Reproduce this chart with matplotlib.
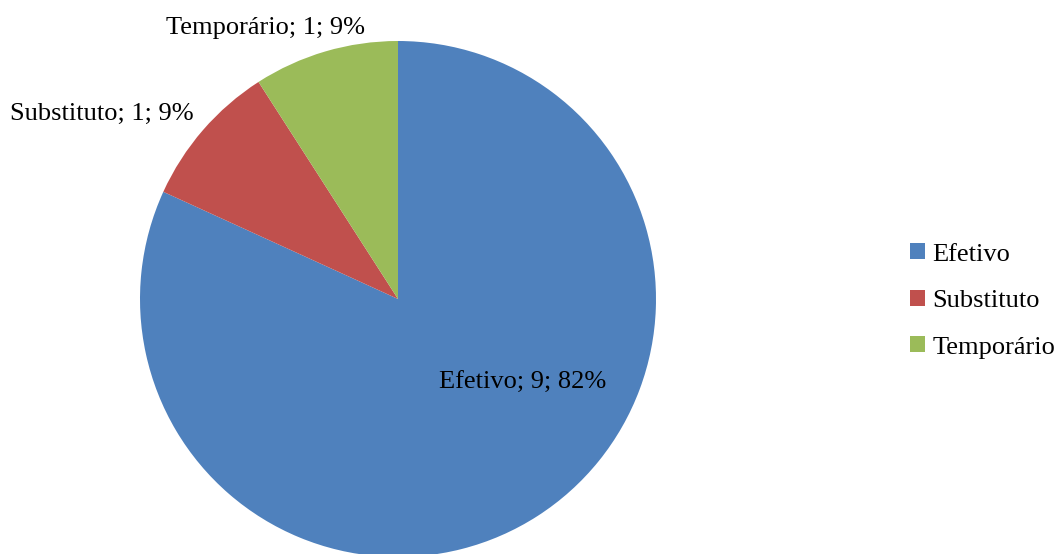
import matplotlib
matplotlib.use("Agg")
import matplotlib.pyplot as plt
from matplotlib.patches import Patch

categories = ["Efetivo", "Substituto", "Temporário"]
values = [9, 1, 1]
colors = ["#4F81BD", "#C0504D", "#9BBB59"]

W, H = 1056, 554
fig = plt.figure(figsize=(W / 100, H / 100), dpi=100)
ax = fig.add_axes([0, 0, 1, 1])
ax.set_xlim(0, W)
ax.set_ylim(0, H)
ax.set_aspect("equal")
ax.axis("off")

cx, cy, r = 398, H - 299, 258
wedges, _ = ax.pie(values, colors=colors, startangle=90, counterclock=False,
                   center=(cx, cy), radius=r, frame=True,
                   wedgeprops=dict(linewidth=0))
ax.set_xlim(0, W)
ax.set_ylim(0, H)
ax.axis("off")

total = sum(values)
label_pos = [(523, 383), (102, 114), (266, 28)]
font = ["Liberation Serif", "DejaVu Serif"]
for cat, v, (lx, ly) in zip(categories, values, label_pos):
    pct = round(100 * v / total)
    ax.text(lx, H - ly, f"{cat}; {v}; {pct}%", ha="center", va="center",
            fontsize=19, family=font, color="black")

handles = [Patch(facecolor=c, edgecolor="none") for c in colors]
leg = fig.legend(handles, categories, loc="center left",
                 bbox_to_anchor=(910 / W, 1 - 301 / H), frameon=False,
                 prop=dict(family=font, size=19), handlelength=0.55,
                 handleheight=0.55, handletextpad=0.3, labelspacing=0.92,
                 borderaxespad=0, borderpad=0)

fig.savefig("out.png", dpi=100, facecolor="white")
